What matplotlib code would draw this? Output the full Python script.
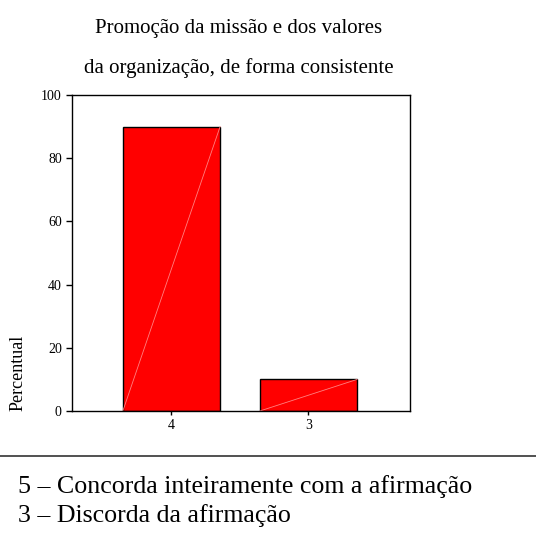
import matplotlib
matplotlib.use('Agg')
import matplotlib.pyplot as plt
from matplotlib.lines import Line2D

# dados
categorias = ['4', '3']
percentuais = [90, 10]
titulo = ['Promoção da missão e dos valores',
          'da organização, de forma consistente']
legenda = ['5 – Concorda inteiramente com a afirmação',
           '3 – Discorda da afirmação']

plt.rcParams['font.family'] = ['Liberation Serif', 'DejaVu Serif']

fig = plt.figure(figsize=(5.36, 5.39), dpi=100)
# eixo: esquerda 72px, direita 410px, topo 95px, base 411px
ax = fig.add_axes([72 / 536, 1 - 411 / 539, 338 / 536, 316 / 539])

largura = 0.71
pos = list(range(len(categorias)))
ax.bar(pos, percentuais, width=largura, color='#ff0000', edgecolor='black', linewidth=1)

# linha diagonal clara dentro de cada barra
for x, v in zip(pos, percentuais):
    ax.plot([x - largura / 2, x + largura / 2], [0, v], color='#ff8080', linewidth=0.6)

ax.set_ylim(0, 100)
ax.set_xlim(-0.726, 1.741)
ax.set_yticks([0, 20, 40, 60, 80, 100])
ax.set_xticks(pos)
ax.set_xticklabels(categorias)
ax.tick_params(axis='both', direction='out', width=1, labelsize=10, pad=3)
ax.tick_params(axis='y', length=4.3)
ax.tick_params(axis='x', length=3)
for s in ax.spines.values():
    s.set_linewidth(1)

ax.set_ylabel('Percentual', fontsize=13, loc='bottom')
ax.yaxis.set_label_coords(-0.136, 0)

fig.text(239 / 536, 1 - 33 / 539, titulo[0], ha='center', va='baseline', fontsize=15)
fig.text(239 / 536, 1 - 73 / 539, titulo[1], ha='center', va='baseline', fontsize=15)

# linha horizontal e legenda abaixo do grafico
fig.add_artist(Line2D([0, 1], [1 - 456 / 539, 1 - 456 / 539], color='#333333', linewidth=1.2))
fig.text(18 / 536, 1 - 493 / 539, legenda[0], ha='left', va='baseline', fontsize=18.6)
fig.text(18 / 536, 1 - 522 / 539, legenda[1], ha='left', va='baseline', fontsize=18.6)

fig.savefig('out.png', dpi=100)
